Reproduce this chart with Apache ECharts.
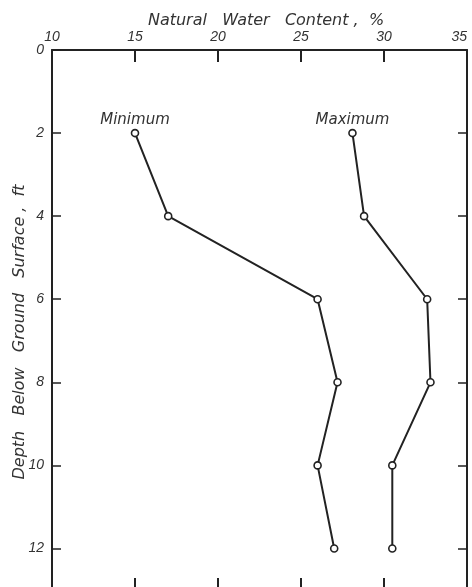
<!DOCTYPE html>
<html>
<head>
<meta charset="utf-8">
<script src="https://cdn.jsdelivr.net/npm/echarts@6/dist/echarts.min.js"></script>
<style>
  html, body { margin: 0; padding: 0; background: #fff; }
  #chart { width: 472px; height: 587px; }
</style>
</head>
<body>
<div id="chart"></div>
<script>
// Depth below ground surface (ft) at which water content was sampled
const depths = [2, 4, 6, 8, 10, 12];
// Natural water content (%) at each depth
const minimumContent = [15, 17, 26, 27.2, 26, 27];
const maximumContent = [28.1, 28.8, 32.6, 32.8, 30.5, 30.5];
const seriesNames = ['Minimum', 'Maximum'];

const ink = '#222';
const tickFont = 'Liberation Sans';
const titleFont = 'DejaVu Sans';

const chart = echarts.init(document.getElementById('chart'), null, { renderer: 'canvas' });

function pairs(values) {
  return values.map((v, i) => [v, depths[i]]);
}

function lineSeries(name, values) {
  return {
    name: name,
    type: 'line',
    xAxisIndex: 0,
    yAxisIndex: 0,
    data: pairs(values).map((p, i) => i === 0
      ? { value: p, label: { show: true, formatter: name } }
      : { value: p }),
    symbol: 'circle',
    symbolSize: 7,
    itemStyle: { color: '#fff', borderColor: ink, borderWidth: 1.6 },
    lineStyle: { color: ink, width: 2 },
    label: {
      show: false,
      position: 'top',
      distance: 1,
      color: '#333',
      fontFamily: titleFont,
      fontStyle: 'italic',
      fontSize: 15
    },
    emphasis: { disabled: true },
    z: 3
  };
}

const valueAxisCommon = {
  type: 'value',
  min: 10,
  max: 35,
  interval: 5,
  splitLine: { show: false },
  axisLine: { show: true, onZero: false, lineStyle: { color: ink, width: 2 } },
  axisTick: { show: true, inside: true, length: 12, lineStyle: { color: ink, width: 2 } }
};

const depthAxisCommon = {
  type: 'value',
  inverse: true,
  min: 0,
  max: 13,
  interval: 2,
  splitLine: { show: false },
  axisLine: { show: true, onZero: false, lineStyle: { color: ink, width: 2 } },
  axisTick: { show: true, inside: true, length: 9, lineStyle: { color: ink, width: 1.5 } }
};

chart.setOption({
  animation: false,
  backgroundColor: '#fff',
  grid: {
    left: 52, right: 5, top: 50, height: 540,
    containLabel: false, outerBoundsMode: 'none'
  },
  xAxis: [
    Object.assign({}, valueAxisCommon, {
      position: 'top',
      axisLabel: {
        show: true, margin: 6, color: '#333', fontFamily: tickFont,
        fontStyle: 'italic', fontSize: 14, alignMaxLabel: 'right'
      }
    }),
    Object.assign({}, valueAxisCommon, {
      position: 'bottom',
      axisLabel: { show: false }
    })
  ],
  yAxis: [
    Object.assign({}, depthAxisCommon, {
      position: 'left',
      axisLabel: {
        show: true, margin: 8, color: '#333', fontFamily: tickFont,
        fontStyle: 'italic', fontSize: 14, showMaxLabel: false
      }
    }),
    Object.assign({}, depthAxisCommon, {
      position: 'right',
      axisLabel: { show: false }
    })
  ],
  graphic: [
    {
      // horizontal axis title, above the tick labels
      type: 'text',
      x: 266,
      y: 21,
      style: {
        text: 'Natural   Water   Content ,  %',
        fill: '#333',
        font: 'italic 16px "' + titleFont + '"',
        textAlign: 'center',
        textVerticalAlign: 'middle'
      }
    },
    {
      // vertical axis title, reading bottom to top
      type: 'text',
      x: 20,
      y: 332,
      rotation: Math.PI / 2,
      style: {
        text: 'Depth   Below   Ground   Surface ,  ft',
        fill: '#333',
        font: 'italic 16px "' + titleFont + '"',
        textAlign: 'center',
        textVerticalAlign: 'middle'
      }
    }
  ],
  series: [
    lineSeries(seriesNames[0], minimumContent),
    lineSeries(seriesNames[1], maximumContent)
  ]
});
</script>
</body>
</html>
